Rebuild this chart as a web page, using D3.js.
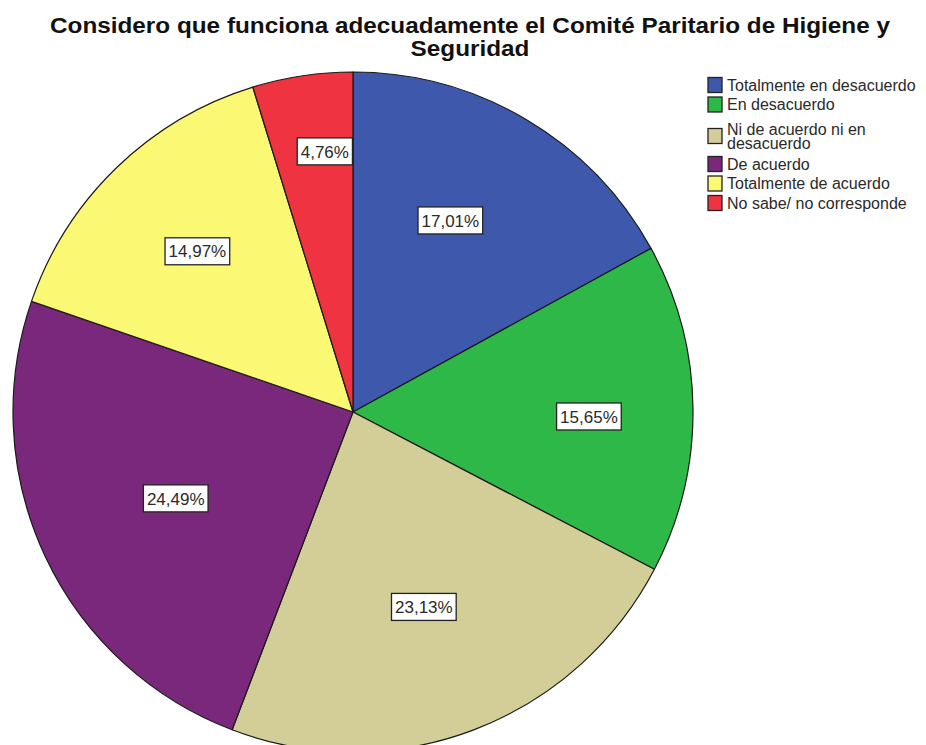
<!DOCTYPE html>
<html>
<head>
<meta charset="utf-8">
<script src="https://cdn.jsdelivr.net/npm/d3@7/dist/d3.min.js"></script>
<style>
  html, body { margin: 0; padding: 0; background: #fff; }
  svg { display: block; }
</style>
</head>
<body>
<svg id="chart" width="926" height="745"></svg>
<script>
// Response categories (clockwise from 12 o'clock)
const categories = [
  "Totalmente en desacuerdo",
  "En desacuerdo",
  "Ni de acuerdo ni en desacuerdo",
  "De acuerdo",
  "Totalmente de acuerdo",
  "No sabe/ no corresponde"
];
// Percentage of respondents per category
const percentages = [17.01, 15.65, 23.13, 24.49, 14.97, 4.76];
// Legend text, split into display lines
const legendLines = [
  ["Totalmente en desacuerdo"],
  ["En desacuerdo"],
  ["Ni de acuerdo ni en", "desacuerdo"],
  ["De acuerdo"],
  ["Totalmente de acuerdo"],
  ["No sabe/ no corresponde"]
];
const titleLines = [
  "Considero que funciona adecuadamente el Comité Paritario de Higiene y",
  "Seguridad"
];

// Slice fills
const palette = ["#3e58ac", "#2eb848", "#d3ce97", "#7a287b", "#fbf873", "#ef3340"];
// Value-label placement inside each slice: radius as a fraction of R,
// and position along the slice's sweep (0 = start edge, 1 = end edge)
const labelRadiusFrac = [0.632, 0.694, 0.61, 0.58, 0.658, 0.771];
const labelSweepFrac  = [0.44, 0.53, 0.51, 0.49, 0.50, 0.64];

const FONT = "Liberation Sans, Arial, sans-serif";
const svg = d3.select("#chart");
const cx = 353, cy = 412, R = 340;

// Title: one text element, two centred lines, widened to the chart's span
const title = svg.append("text").attr("font-family", FONT)
  .attr("font-weight", "bold").attr("font-size", 22).attr("fill", "#111")
  .attr("text-anchor", "middle").attr("y", 33);
const titleSpans = titleLines.map((t, i) =>
  title.append("tspan").attr("x", 470).attr("dy", i === 0 ? 0 : 23).text(t));
const stretch = 840 / titleSpans[0].node().getComputedTextLength();
titleSpans.forEach(n => n.attr("textLength", n.node().getComputedTextLength() * stretch)
  .attr("lengthAdjust", "spacingAndGlyphs"));

const color = d3.scaleOrdinal().domain(categories).range(palette);

const pie = d3.pie().sort(null).value(d => d.value);
const arcs = pie(categories.map((c, i) => ({ cat: c, value: percentages[i] })));
const arc = d3.arc().innerRadius(0).outerRadius(R);

const g = svg.append("g").attr("transform", `translate(${cx},${cy})`);

g.selectAll("path.slice").data(arcs).join("path")
  .attr("class", "slice")
  .attr("d", arc)
  .attr("fill", d => color(d.data.cat))
  .attr("stroke", "#1a1a1a")
  .attr("stroke-width", 1.2)
  .attr("stroke-linejoin", "round");

// Value labels in white boxes
const fmt = v => v.toFixed(2).replace(".", ",") + "%";
const labels = g.selectAll("g.lbl").data(arcs).join("g").attr("class", "lbl")
  .attr("transform", (d, i) => {
    const a = d.startAngle + (d.endAngle - d.startAngle) * labelSweepFrac[i];
    const r = R * labelRadiusFrac[i];
    return `translate(${r * Math.sin(a)},${-r * Math.cos(a)})`;
  });
labels.append("text")
  .attr("text-anchor", "middle").attr("dy", "0.36em")
  .attr("font-family", FONT)
  .attr("font-size", 17).attr("fill", "#2a2a2a")
  .text(d => fmt(d.data.value));
labels.each(function() {
  const t = d3.select(this).select("text");
  const b = t.node().getBBox();
  d3.select(this).insert("rect", "text")
    .attr("x", b.x - 3.5).attr("y", -13.5)
    .attr("width", b.width + 7).attr("height", 27)
    .attr("fill", "#fff").attr("stroke", "#222").attr("stroke-width", 1.3);
});

// Legend
const legend = svg.append("g").attr("font-family", FONT)
  .attr("font-size", 16).attr("fill", "#2a2a2a");
let y = 85;
legendLines.forEach((lines, i) => {
  if (lines.length > 1) y += 5;
  const h = (lines.length - 1) * 14;
  const mid = y + h / 2;
  legend.append("rect")
    .attr("x", 708).attr("y", mid - 7.5).attr("width", 14).attr("height", 15)
    .attr("fill", palette[i]).attr("stroke", "#222").attr("stroke-width", 1.3);
  const txt = legend.append("text").attr("x", 727).attr("y", y);
  lines.forEach((ln, j) => {
    txt.append("tspan").attr("x", 727).attr("dy", j === 0 ? "0.35em" : 14).text(ln);
  });
  y += h + (lines.length > 1 ? 21 : 19.5);
});
</script>
</body>
</html>
